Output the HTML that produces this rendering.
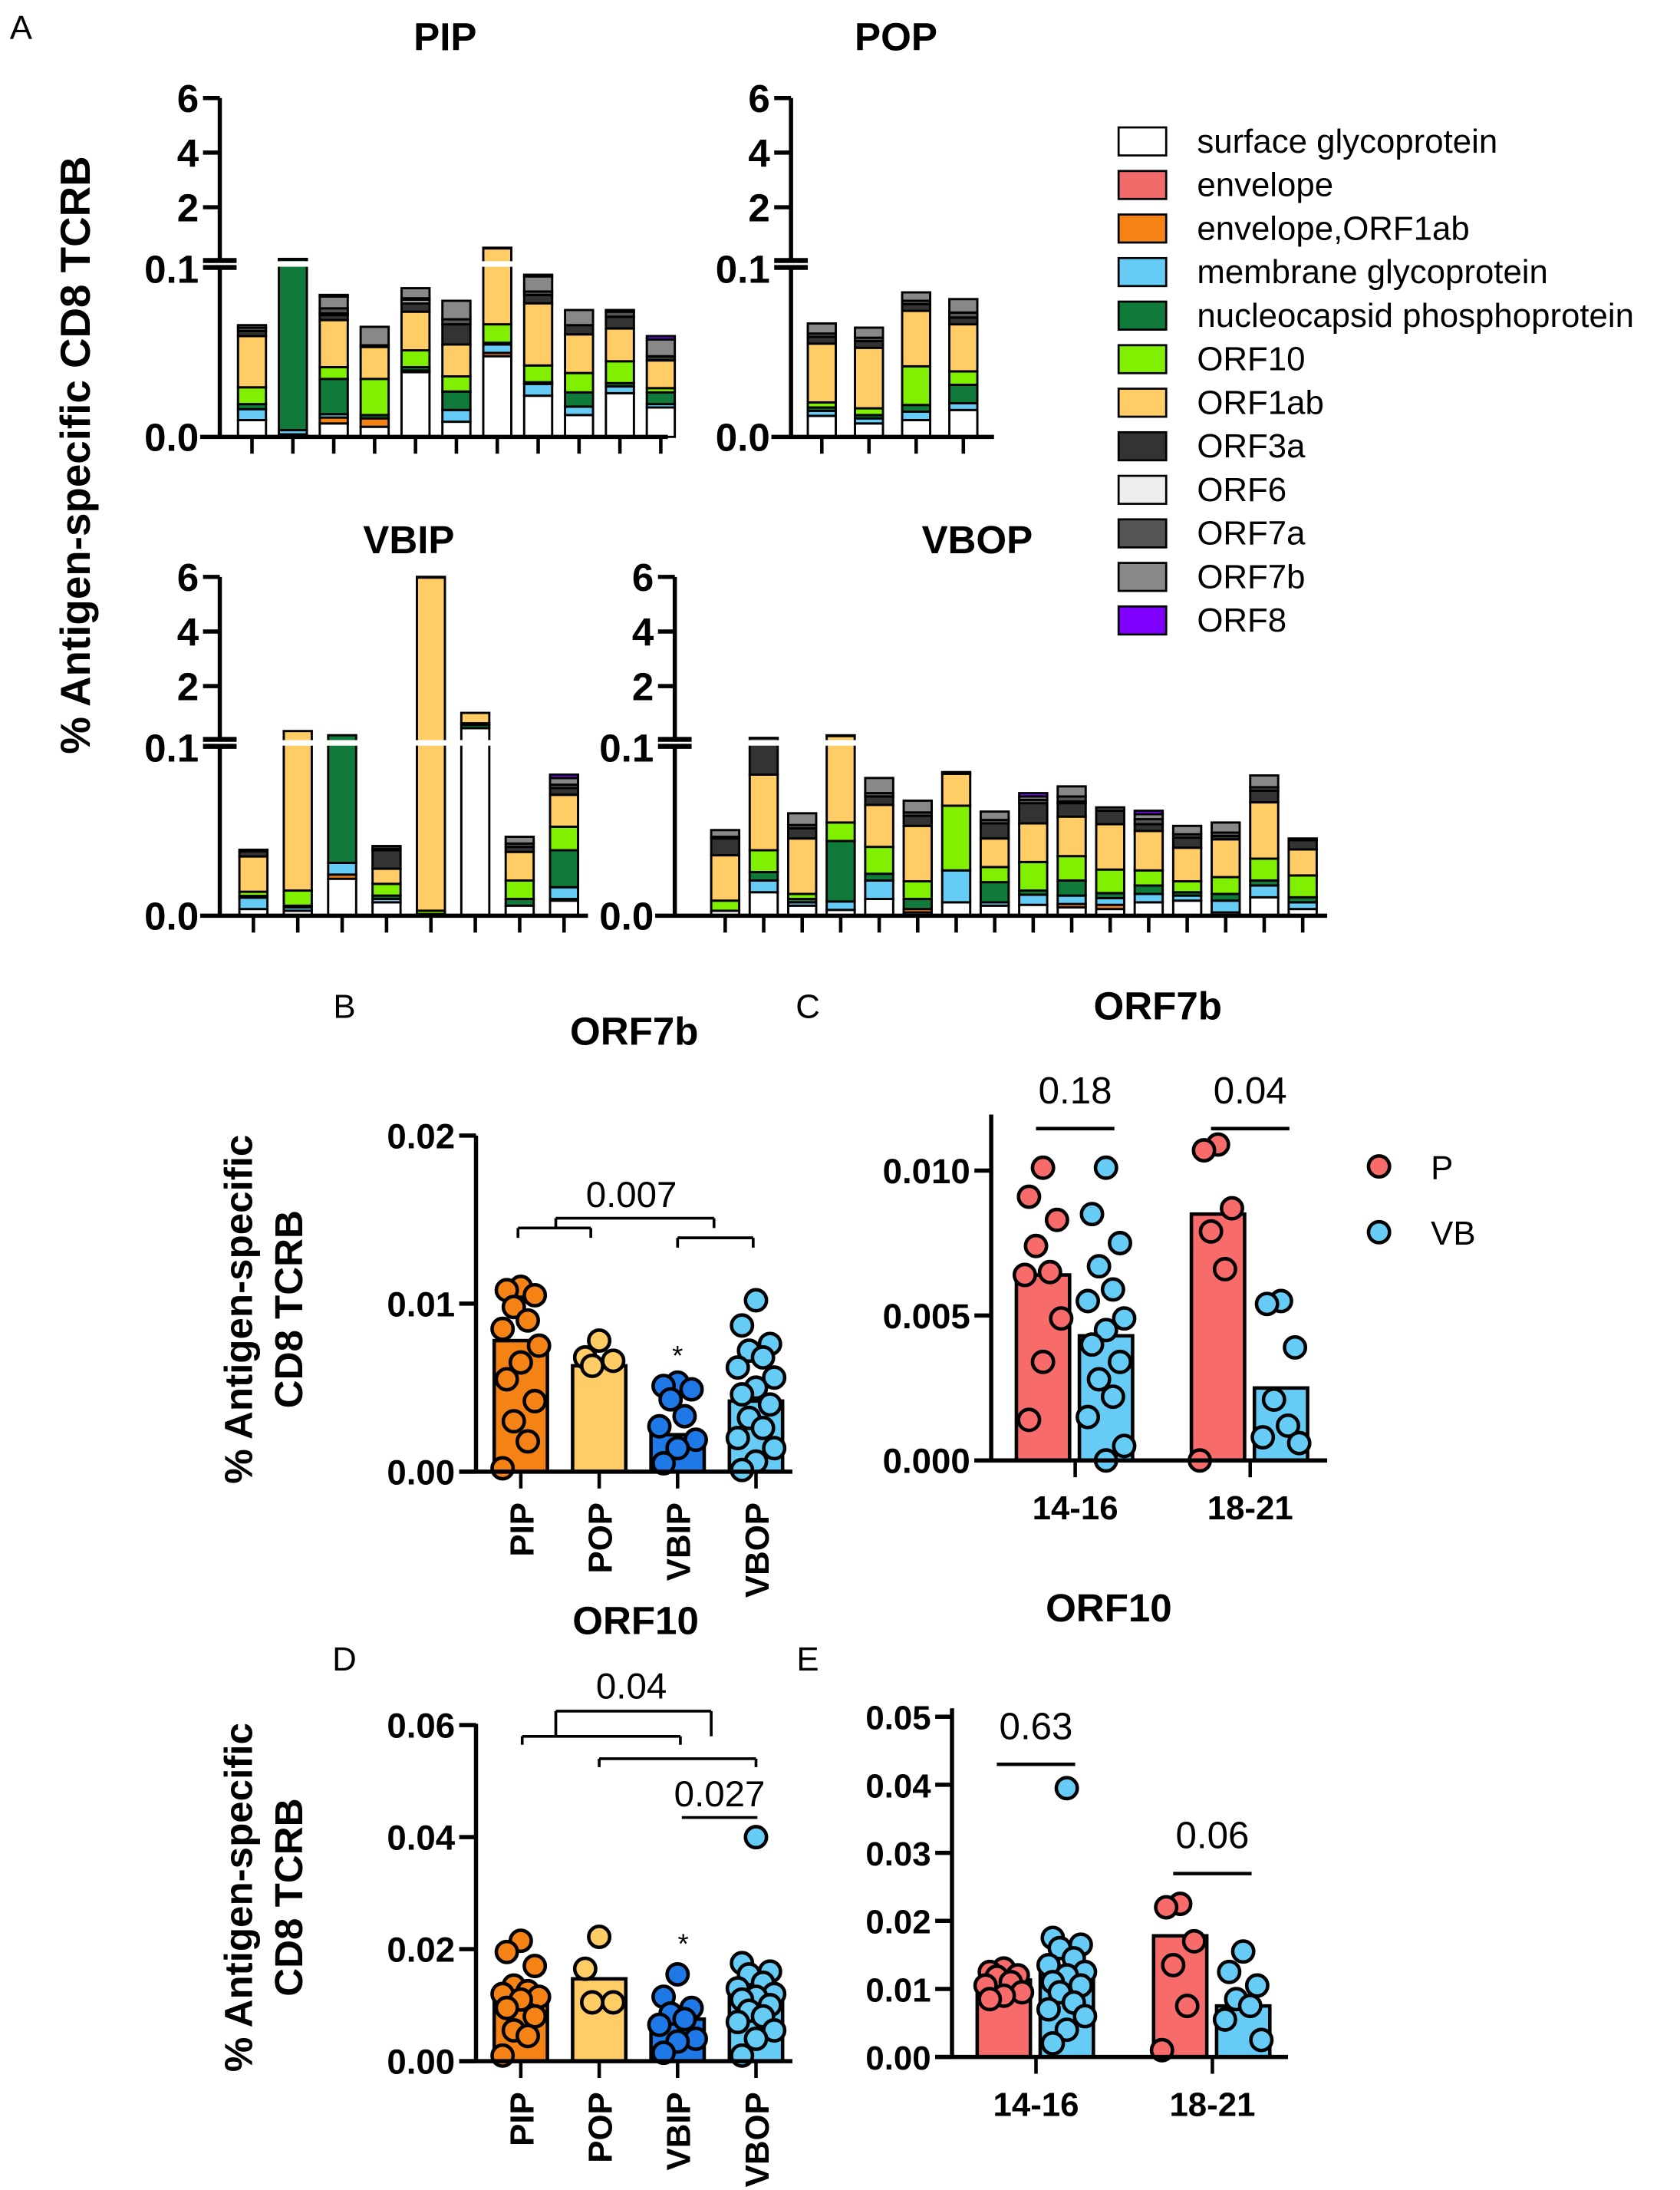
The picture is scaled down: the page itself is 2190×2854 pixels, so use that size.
<!DOCTYPE html>
<html><head><meta charset="utf-8">
<style>
html,body{margin:0;padding:0;background:#fff;}
svg{display:block;}
text{font-family:"Liberation Sans",Arial,sans-serif;}
</style></head>
<body>
<svg id="fig" width="2190" height="2854" viewBox="0 0 1200 1564" preserveAspectRatio="none" xmlns="http://www.w3.org/2000/svg">
<rect width="1200" height="1564" fill="#fff"/>
<g id="root"></g>
</svg>
<script>
// ===== DATA =====
const antigenNames=["surface glycoprotein","envelope","envelope,ORF1ab","membrane glycoprotein","nucleocapsid phosphoprotein","ORF10","ORF1ab","ORF3a","ORF6","ORF7a","ORF7b","ORF8"];
const antigenColors=["#ffffff","#f26b6b","#f58215","#66ccf5","#107a3a","#80f000","#ffcc66","#333333","#eeeeee","#555555","#888888","#7f00ff"];
// stacked values in units of 0.001 %
const pipBars=[
[10,0,0,6.5,3,10,30.5,3,0,2,1.5,0],
[1.5,0,0,2.5,102,0,0,1,0,0,0,0],
[8,0,3.5,2,21,7,28,3,1,3,7,1],
[6,0,5,0,2,21.5,19,0,0,1,11,0],
[38.5,0,1,0,2,10,23,5,2,1,6,0],
[9,0,0,7,11,9,19,12,0,3,11,0],
[48,0,2,5,1,11,430,20,0,0,0,0],
[24.5,0,0,7,1,10,37,5,0,2,9,1],
[13,0,0,5,8.5,11.5,23,5.5,0,0,9,0],
[26,0,0,4,2,13,19.5,7,0,3,1,0],
[17.5,0,0,2,7,2.5,16.5,2.5,0,0,10,2]];
const popBars=[
[12.5,0,0,3,2,3,35,4,0,2,6,0],
[8,0,0,3,2,4,36,4,0,2,6,0],
[10,0,0,5,4,23,33,4,0,2,5,0],
[16,0,0,4,11,8,28,4,0,3,8,0]];
const vbipBars=[
[4,0,0,6.8,1,2.5,21,3,0,1,0,0],
[3,0,0,2,1,9,340,0,0,0,0,0],
[22,0,2.5,7,170,0,0,0,0,0,0,0],
[8,0,0,2,2,7,9,11,0,1,1.5,0],
[1,0,0,0,0,2,5995,2,0,0,0,0],
[460,0,0,0,120,60,380,0,0,0,0,0],
[6,0,0,0,4,11,17,3,0,2,4,0],
[9,0,1,7,22,14,19,4,0,2,4,2]];
const vbopBars=[
[3,0,0,0,0,6,27,10,0,1,4,0],
[14,0,0,7,5,13,45,20,0,0,0,0],
[6,0,0,2,2,3,33,6,0,2,7,0],
[3.5,0,0,5,36,11,140,1,0,0,0,0],
[10,0,0,11,4,16,25,5,0,2,9,0],
[2,0,2,0,6,10.5,33,6,0,2,7,0],
[8,0,0,19,0,38.5,19,1,0,0,0,0],
[6,0,0,2,12,9,17,9,0,2,5,0],
[6.5,0,0,6,2.5,17,23,12,0,2,2,2],
[5,0,2,5,9,14.5,23.5,8,1,3,6,0],
[4,0,2.5,4,3,14,27,8,0,2,0,0],
[8,0,0,5,5,9,23.5,4,0,3,3,2],
[9,0,0,3,2,6.5,20,6,0,2,5,0],
[2,0,0,7,4,10,22.5,2,0,2,6,0],
[11,0,0,7,3,13,33.5,7,0,2,7,0],
[4,0,0,4,3,13,15.5,5.5,0,1,0,0]];

// Panel B (ORF7b by group)
const bCats=["PIP","POP","VBIP","VBOP"];
const bMeans=[0.0078,0.0063,0.0022,0.0042];
const bPIP=[0.011,0.0108,0.0105,0.0098,0.009,0.0085,0.0075,0.0065,0.0055,0.0042,0.003,0.0018,0.0002];
const bPOP=[0.0078,0.0068,0.0066,0.0063];
const bVBIP=[0.0053,0.0051,0.0049,0.0043,0.0033,0.0027,0.0019,0.0014,0.0005];
const bVBOP=[0.0102,0.0087,0.0076,0.0072,0.0068,0.0062,0.0056,0.005,0.0046,0.004,0.0032,0.0026,0.002,0.0014,0.0006,0.0001];
const bTicks=["0.00","0.01","0.02"];
const bTickVals=[0,0.01,0.02];
// Panel C (ORF7b by age)
const cGroups=["14-16","18-21"];
const cMeansP=[0.0064,0.0085];
const cMeansVB=[0.0043,0.0025];
const cP14=[0.0101,0.0091,0.0083,0.0074,0.0065,0.0064,0.0049,0.0034,0.0014];
const cVB14=[0.0101,0.0085,0.0075,0.0067,0.0059,0.0055,0.0049,0.0045,0.004,0.0034,0.0028,0.0022,0.0015,0.0005,0.0];
const cP18=[0.0109,0.0107,0.0087,0.0079,0.0066,0.0];
const cVB18=[0.0055,0.0054,0.0039,0.0021,0.0012,0.0008,0.0006];
const cTicks=["0.000","0.005","0.010"];
const cTickVals=[0,0.005,0.01];
const cPvals=["0.18","0.04"];
// Panel D (ORF10 by group)
const dMeans=[0.0115,0.0147,0.0075,0.0125];
const dPIP=[0.0215,0.0195,0.017,0.0135,0.0125,0.012,0.0115,0.011,0.0095,0.008,0.0055,0.0045,0.001];
const dPOP=[0.0222,0.0165,0.0105,0.0105];
const dVBIP=[0.0155,0.0115,0.0095,0.0085,0.0075,0.0065,0.004,0.0035,0.0015];
const dVBOP=[0.04,0.0175,0.016,0.0155,0.014,0.013,0.012,0.0115,0.011,0.01,0.009,0.008,0.007,0.0055,0.004,0.001];
const dTicks=["0.00","0.02","0.04","0.06"];
const dTickVals=[0,0.02,0.04,0.06];
// Panel E (ORF10 by age)
const eMeansP=[0.0113,0.0178];
const eMeansVB=[0.0122,0.0075];
const eP14=[0.013,0.0125,0.012,0.0118,0.011,0.0105,0.0095,0.009,0.0085];
const eVB14=[0.0395,0.0175,0.0165,0.016,0.0145,0.0135,0.0125,0.012,0.011,0.0105,0.0095,0.008,0.007,0.006,0.004,0.002];
const eP18=[0.0225,0.022,0.017,0.0135,0.0075,0.001];
const eVB18=[0.0155,0.0125,0.0105,0.0085,0.0075,0.0055,0.0025];
const eTicks=["0.00","0.01","0.02","0.03","0.04","0.05"];
const eTickVals=[0,0.01,0.02,0.03,0.04,0.05];
const ePvals=["0.63","0.06"];

// ===== DRAW =====
const NS="http://www.w3.org/2000/svg";
const root=document.getElementById('root');
function el(tag,attrs,parent,txt){
  const e=document.createElementNS(NS,tag);
  for(const k in attrs) e.setAttribute(k,attrs[k]);
  if(txt!==undefined) e.textContent=txt;
  (parent||root).appendChild(e);
  return e;
}
function line(x1,y1,x2,y2,w,p){return el('line',{x1,y1,x2,y2,stroke:'#000','stroke-width':w||3},p);}
function txt(x,y,s,size,opts,p){
  opts=opts||{};
  const t=el('text',{x,y,'font-size':size,'text-anchor':opts.anchor||'middle','font-weight':opts.bold?'bold':'normal',fill:'#000'},p,s);
  if(opts.rot) t.setAttribute('transform',`rotate(${opts.rot} ${x} ${y})`);
  return t;
}

// Stacked panels
function stackPanel(name,title,titleX,bars,P){
  const g=el('g',{});
  
  
  const lower01=P.base-120;
  const up01=P.y6+5.9*P.k;
  function y(v){ if(v<=100) return P.base-v*1.2; return up01-(v/1000-0.1)*P.k; }
  const t=txt(titleX,P.titleY,title,28,{bold:true},g);
  
  const bw=20;
  bars.forEach((b,i)=>{
    const cx=P.x0+i*P.dx;
    let cum=0;
    b.forEach((v,j)=>{
      if(v<=0) return;
      const y1=y(cum),y2=y(cum+v);
      const r=el('rect',{x:cx-bw/2,y:y2,width:bw,height:Math.max(0.5,y1-y2),fill:antigenColors[j],stroke:'#000','stroke-width':1.6},g);
      
      
      cum+=v;
    });
    line(cx,P.base,cx,P.base+12,2.5,g);
  });
  el('rect',{x:P.axisX+2,y:up01+1.5,width:P.xEnd-P.axisX,height:lower01-up01-3,fill:'#fff'},g);
  line(P.axisX,P.y6,P.axisX,up01+1,3,g);
  line(P.axisX,lower01,P.axisX,P.base,3,g);
  line(P.axisX-14,P.base,P.xEnd,P.base,3,g);
  [[6,P.y6],[4,P.y6+2*P.k],[2,P.y6+4*P.k]].forEach(([v,yy])=>{
    line(P.axisX-12,yy,P.axisX,yy,3,g);
    txt(P.axisX-15,yy+10,String(v),28,{bold:true,anchor:'end'},g);
  });
  line(P.axisX-12,up01+1,P.axisX+12,up01+1,3.5,g);
  line(P.axisX-12,lower01-1,P.axisX+12,lower01-1,3.5,g);
  txt(P.axisX-15,lower01+10,'0.1',28,{bold:true,anchor:'end'},g);
  txt(P.axisX-15,P.base+10,'0.0',28,{bold:true,anchor:'end'},g);
}
stackPanel('pip','PIP',318,pipBars,{axisX:157,base:312,y6:70,k:19.5,x0:180,dx:29.2,xEnd:477,titleY:36});
stackPanel('pop','POP',640,popBars,{axisX:565,base:312,y6:70,k:19.5,x0:587,dx:33.7,xEnd:710,titleY:36});
stackPanel('vbip','VBIP',292,vbipBars,{axisX:157,base:654,y6:412,k:19.5,x0:181,dx:31.7,xEnd:420,titleY:395});
stackPanel('vbop','VBOP',698,vbopBars,{axisX:482,base:654,y6:412,k:19.5,x0:518,dx:27.5,xEnd:948,titleY:395});

// Legend
const lg=el('g',{});


antigenNames.forEach((n,i)=>{
  const yy=101+i*31.1;
  const r=el('rect',{x:799,y:yy-10,width:34,height:20,fill:antigenColors[i],stroke:'#000','stroke-width':1.5},lg);
  
  
  const t=txt(855,yy+8,n,24,{anchor:'start'},lg);
  
  
});

// Labels
[['A',15,28],['B',246,727],['C',577,727],['D',246,1193],['E',577,1193]].forEach(([s,x,y])=>{
  const t=txt(x,y,s,24,{},root);
  
  
});
let yt=txt(64,325,'% Antigen-specific CD8 TCRB',30,{bold:true,rot:-90});

[[935,'b'],[1355,'d']].forEach(([cy,n])=>{
  let a=txt(180,cy,'% Antigen-specific',28,{bold:true,rot:-90});
  
  let b=txt(216,cy,'CD8 TCRB',28,{bold:true,rot:-90});
  
});

// Scatter/bar panels
function dots(g,vals,cx,yf,color,name){
  vals.forEach((v,i)=>{
    const off=[0,-10,10,-5,5,-13,13][i%7];
    const c=el('circle',{cx:cx+off,cy:yf(v),r:7.5,fill:color,stroke:'#000','stroke-width':2.5},g);
    
    
  });
}
function yAxis(g,axisX,top,base,yf,ticks,vals,size){
  line(axisX,top,axisX,base,3,g);
  vals.forEach((v,i)=>{
    const yy=yf(v);
    line(axisX-12,yy,axisX,yy,3,g);
    txt(axisX-15,yy+9,ticks[i],size,{bold:true,anchor:'end'},g);
  });
}
function groupPanel(name,title,titleX,titleY,axisX,base,top,ppu,means,series,ticks,tickVals,colors){
  const g=el('g',{});
  
  
  const yf=v=>base-v*ppu;
  const xs=[372,428,484,540];
  const t=txt(titleX,titleY,title,28,{bold:true},g);
  
  means.forEach((m,i)=>{
    const r=el('rect',{x:xs[i]-19,y:yf(m),width:38,height:base-yf(m),fill:colors[i],stroke:'#000','stroke-width':2.5},g);
    
    
  });
  series.forEach((s,i)=>dots(g,s,xs[i],yf,colors[i],bCats[i].toLowerCase()));
  yAxis(g,axisX,top,base,yf,ticks,tickVals,25);
  line(axisX-12,base,566,base,3,g);
  xs.forEach((x,i)=>{
    line(x,base,x,base+12,2.5,g);
    const l=txt(x+9,base+22,bCats[i],24,{bold:true,anchor:'end',rot:-90},g);
    
  });
  return g;
}
const grpColors=["#f58215","#ffcc66","#1e78e6","#66ccf5"];
const gb=groupPanel('orf7b-group','ORF7b',453,746,340,1051,811,12000,bMeans,[bPIP,bPOP,bVBIP,bVBOP],bTicks,bTickVals,grpColors);
txt(451,862,'0.007',26,{},gb);
[[370,422,877,884],[484,538,884,891],[397,510,870,877]].forEach(([a,b,yy,yd])=>{
  line(a,yy,b,yy,2,gb);line(a,yy,a,yd,2,gb);line(b,yy,b,yd,2,gb);
});
txt(484,975,'*',20,{},gb);

const gd=groupPanel('orf10-group','ORF10',454,1167,340,1472,1231,4000,dMeans,[dPIP,dPOP,dVBIP,dVBOP],dTicks,dTickVals,grpColors);
txt(451,1213,'0.04',26,{},gd);
[[397,508,1222,1240],[373,486,1240,1246],[428,540,1256,1262]].forEach(([a,b,yy,yd])=>{
  line(a,yy,b,yy,2,gd);line(a,yy,a,yd,2,gd);line(b,yy,b,yd,2,gd);
});
txt(514,1290,'0.027',26,{},gd);
line(487,1298,541,1298,2,gd);
txt(488,1395,'*',20,{},gd);

function agePanel(name,title,titleX,titleY,axisX,base,top,ppu,xEnd,mP,mVB,sP,sVB,ticks,tickVals,pv,pvY,centers,tickSize){
  const g=el('g',{});
  
  
  const yf=v=>base-v*ppu;
  const t=txt(titleX,titleY,title,28,{bold:true},g);
  
  centers.forEach((c,i)=>{
    const xp=c-23,xv=c+22;
    let r=el('rect',{x:xp-19,y:yf(mP[i]),width:38,height:base-yf(mP[i]),fill:'#f76b6b',stroke:'#000','stroke-width':2.5},g);
    
    r=el('rect',{x:xv-19,y:yf(mVB[i]),width:38,height:base-yf(mVB[i]),fill:'#66ccf5',stroke:'#000','stroke-width':2.5},g);
    
    dots(g,sP[i],xp,yf,'#f76b6b','p-'+cGroups[i]);
    dots(g,sVB[i],xv,yf,'#66ccf5','vb-'+cGroups[i]);
    line(c,base,c,base+12,2.5,g);
    const l=txt(c,base+42,cGroups[i],24,{bold:true},g);
    
    txt(c,pvY[i],pv[i],27,{},g);
    line(c-28,pvY[i]+18,c+28,pvY[i]+18,2.5,g);
  });
  yAxis(g,axisX,top,base,yf,ticks,tickVals,tickSize);
  line(axisX-12,base,xEnd,base,3,g);
  return g;
}
agePanel('orf7b-age','ORF7b',827,728,708,1043,796,20700,948,cMeansP,cMeansVB,[cP14,cP18],[cVB14,cVB18],cTicks,cTickVals,cPvals,[788,788],[768,893],25);
agePanel('orf10-age','ORF10',792,1158,680,1469,1220,4860,920,eMeansP,eMeansVB,[eP14,eP18],[eVB14,eVB18],eTicks,eTickVals,ePvals,[1242,1320],[740,866],24);

// C legend
const cl=el('g',{});


let c1=el('circle',{cx:985,cy:833,r:7.5,fill:'#f76b6b',stroke:'#000','stroke-width':2.5},cl);

txt(1022,842,'P',24,{anchor:'start'},cl);
let c2=el('circle',{cx:985,cy:880,r:7.5,fill:'#66ccf5',stroke:'#000','stroke-width':2.5},cl);

txt(1022,889,'VB',24,{anchor:'start'},cl);
</script>
</body></html>
